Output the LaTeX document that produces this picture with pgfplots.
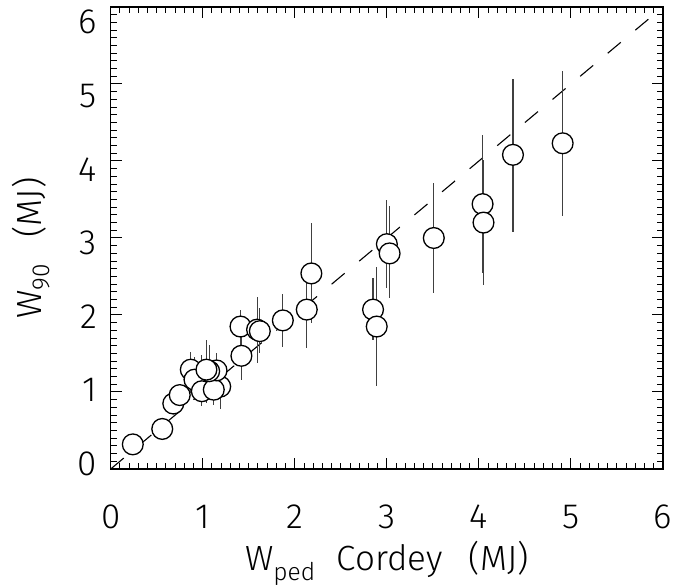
\documentclass[border=0pt]{standalone}
\usepackage{fontspec}
\IfFontExistsTF{Fira Sans Light}{\setmainfont{Fira Sans Light}}{\setmainfont{Liberation Sans}}
\usepackage{pgfplots}
\pgfplotsset{compat=1.18}
\usepackage{pgfplotstable}
\usetikzlibrary{calc}

\pgfplotstableread{
x     y     ep    em
0.24  0.32  0.00  0.00
0.56  0.52  0.00  0.00
0.68  0.85  0.00  0.00
0.75  0.96  0.00  0.00
0.87  1.29  0.23  0.30
0.91  1.16  0.30  0.26
0.99  1.01  0.47  0.19
1.19  1.07  0.30  0.29
1.12  1.03  0.20  0.20
1.15  1.28  0.23  0.25
1.07  1.27  0.34  0.30
1.04  1.29  0.39  0.43
1.42  1.47  0.30  0.31
1.41  1.85  0.21  0.30
1.59  1.81  0.42  0.43
1.62  1.79  0.30  0.28
1.87  1.93  0.34  0.35
2.13  2.07  0.34  0.50
2.18  2.54  0.66  0.64
2.85  2.07  0.41  0.39
2.89  1.85  0.77  0.77
3.00  2.92  0.57  0.57
3.03  2.80  0.61  0.58
3.51  3.00  0.71  0.71
4.04  3.44  0.90  0.89
4.05  3.20  0.81  0.81
4.37  4.08  0.99  1.00
4.91  4.23  0.94  0.94
}\datatable

\begin{document}
\begin{tikzpicture}
\begin{axis}[
  scale only axis,
  width=552.3pt, height=462pt,
  xmin=0, xmax=6, ymin=0, ymax=6,
  xtick={0,1,2,3,4,5,6}, ytick={0,1,2,3,4,5,6},
  minor tick num=9,
  tick align=inside,
  major tick length=11pt,
  minor tick length=6pt,
  axis line style={line width=1.3pt},
  every tick/.style={black, line width=1pt},
  /pgf/number format/assume math mode=true,
  tick label style={font=\fontsize{35}{40}\selectfont, inner sep=0pt},
  xticklabel style={anchor=north, yshift=-36pt},
  yticklabel style={anchor=east, xshift=-13.7pt, yshift={5pt-3.33pt*\ticknum}},
  label style={font=\fontsize{35}{40}\selectfont, inner sep=0pt},
  xlabel={W\textsubscript{ped}\hspace{0.6em}Cordey\hspace{0.75em}(MJ)},
  xlabel style={at={(axis description cs:0.5,0)}, anchor=north, yshift=-72pt},
  ylabel={W\textsubscript{90}\hspace{0.75em}(MJ)},
  ylabel style={at={(axis description cs:-0.178,0.478)}, anchor=north, rotate=0},
]
\addplot[black, line width=1.1pt, dash pattern=on 17pt off 19pt] coordinates {(0,0) (6,6)};
\addplot[only marks, mark=*, mark size=10.4pt,
  mark options={fill=white, draw=black, line width=1.3pt},
  error bars/.cd, y dir=both, y explicit,
  error mark=none,
  error bar style={black!75, line width=1.1pt}]
  table[x=x, y=y, y error plus=ep, y error minus=em] {\datatable};
\end{axis}
\pgfresetboundingbox
\path[use as bounding box] ($(current axis.south west)+(-110.7pt,-118pt)$) rectangle ($(current axis.north east)+(10pt,7pt)$);
\end{tikzpicture}
\end{document}
